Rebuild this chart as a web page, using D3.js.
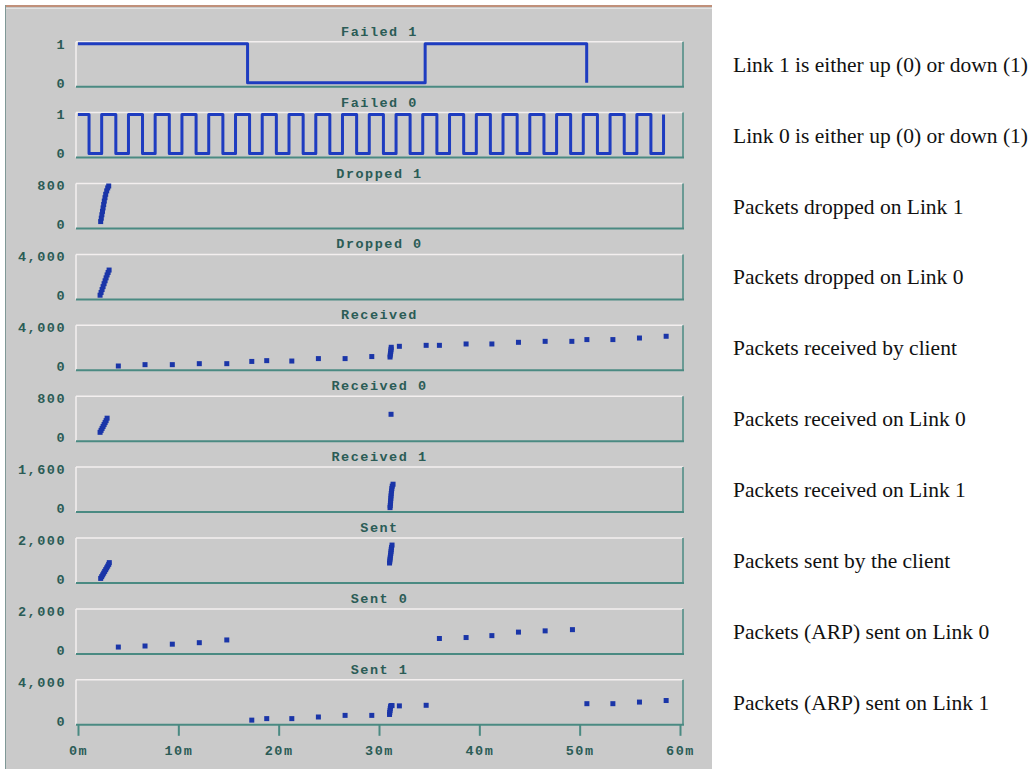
<!DOCTYPE html>
<html>
<head>
<meta charset="utf-8">
<script src="https://cdn.jsdelivr.net/npm/d3@7"></script>
<style>
body { margin: 0; background: #fff; }
svg { display: block; }
</style>
</head>
<body>
<div id="chart"></div>
<script>
var panelTitles = ['Failed 1', 'Failed 0', 'Dropped 1', 'Dropped 0', 'Received',
  'Received 0', 'Received 1', 'Sent', 'Sent 0', 'Sent 1'];
var panelMax = [1, 1, 800, 4000, 4000, 800, 1600, 2000, 2000, 4000];
var panelNotes = [
  'Link 1 is either up (0) or down (1)',
  'Link 0 is either up (0) or down (1)',
  'Packets dropped on Link 1',
  'Packets dropped on Link 0',
  'Packets received by client',
  'Packets received on Link 0',
  'Packets received on Link 1',
  'Packets sent by the client',
  'Packets (ARP) sent on Link 0',
  'Packets (ARP) sent on Link 1'
];
var xTicks = [0, 10, 20, 30, 40, 50, 60];

// link state, time in minutes
var failed1Time = [0, 16.9, 34.6, 50.7];
var failed1Value = [1, 0, 1, 0];
var failed0Time = [0, 1.10, 2.36, 3.77, 5.03, 6.43, 7.69, 9.10, 10.36, 11.77, 13.03,
  14.44, 15.70, 17.10, 18.36, 19.77, 21.03, 22.44, 23.70, 25.10, 26.36, 27.77,
  29.03, 30.44, 31.70, 33.10, 34.36, 35.77, 37.03, 38.44, 39.70, 41.10, 42.36,
  43.77, 45.03, 46.44, 47.70, 49.10, 50.36, 51.77, 53.03, 54.44, 55.70, 57.10, 58.36];
var failed0Value = [1, 0, 1, 0, 1, 0, 1, 0, 1, 0, 1, 0, 1, 0, 1, 0, 1, 0, 1, 0, 1, 0,
  1, 0, 1, 0, 1, 0, 1, 0, 1, 0, 1, 0, 1, 0, 1, 0, 1, 0, 1, 0, 1, 0, 1];

// counters: [minute, packets]
var dropped1 = [[2.26, 60], [2.32, 130], [2.38, 200], [2.44, 270], [2.5, 340], [2.56, 410],
  [2.62, 480], [2.69, 550], [2.76, 620], [2.86, 690], [2.96, 750], [3.06, 790]];
var dropped0 = [[2.2, 20], [2.3, 300], [2.4, 600], [2.5, 900], [2.6, 1200], [2.7, 1500],
  [2.8, 1800], [2.9, 2100], [3.0, 2350], [3.1, 2600]];
var received = [[4.02, 30], [6.68, 170], [9.40, 170], [12.09, 270], [14.83, 270],
  [17.32, 500], [18.81, 580], [21.31, 540], [23.96, 790], [26.62, 790], [29.28, 1000],
  [31.1, 950], [31.12, 1150], [31.15, 1350], [31.18, 1550], [31.2, 1750], [31.22, 1950],
  [32.03, 2050], [34.70, 2150], [36.02, 2150], [38.68, 2290], [41.25, 2290], [43.90, 2460],
  [46.56, 2560], [49.22, 2560], [50.72, 2740], [53.31, 2740], [55.96, 2900], [58.62, 3080]];
var received0 = [[2.2, 100], [2.3, 140], [2.4, 180], [2.5, 220], [2.6, 260], [2.7, 300],
  [2.8, 340], [2.9, 390], [31.2, 470]];
var received1 = [[31.1, 20], [31.12, 100], [31.14, 200], [31.16, 300], [31.18, 400],
  [31.2, 500], [31.22, 600], [31.25, 700], [31.28, 800], [31.32, 900], [31.4, 980]];
var sent = [[2.26, 30], [2.36, 120], [2.46, 210], [2.56, 300], [2.66, 390], [2.76, 480],
  [2.86, 570], [2.96, 660], [3.06, 750], [3.12, 840],
  [31.05, 820], [31.08, 920], [31.1, 1020], [31.12, 1120], [31.15, 1220], [31.18, 1320],
  [31.2, 1420], [31.22, 1520], [31.25, 1620], [31.3, 1740]];
var sent0 = [[4.02, 146], [6.68, 200], [9.40, 293], [12.09, 370], [14.83, 510],
  [36.02, 585], [38.68, 634], [41.25, 732], [43.90, 912], [46.56, 976], [49.28, 1039]];
var sent1 = [[17.32, 68], [18.81, 224], [21.31, 224], [23.96, 390], [26.62, 556], [29.28, 556],
  [31.05, 650], [31.07, 850], [31.1, 1050], [31.12, 1250], [31.15, 1450], [31.2, 1560],
  [31.3, 1560], [32.03, 1530], [34.70, 1590],
  [50.72, 1756], [53.31, 1756], [55.96, 1920], [58.62, 2080]];

var seriesByPanel = [
  {type: 'step', t: failed1Time, v: failed1Value},
  {type: 'step', t: failed0Time, v: failed0Value},
  {type: 'dots', pts: dropped1},
  {type: 'dots', pts: dropped0},
  {type: 'dots', pts: received},
  {type: 'dots', pts: received0},
  {type: 'dots', pts: received1},
  {type: 'dots', pts: sent},
  {type: 'dots', pts: sent0},
  {type: 'dots', pts: sent1}
];

var w = 1032, h = 769;
var mono = '"Liberation Mono", "DejaVu Sans Mono", monospace';
var textCol = '#2b5c56', tealCol = '#4a8a82', lightCol = '#f3efef';
var blue = '#1e3cc0', dotBlue = '#1a35a8';

var svg = d3.select('#chart').append('svg')
  .attr('width', w)
  .attr('height', h);

// the grey window
svg.append('rect')
  .attr('x', 5).attr('y', 5)
  .attr('width', 707).attr('height', h - 5)
  .attr('fill', '#cacaca');
svg.append('line')
  .attr('x1', 5).attr('x2', 712).attr('y1', 6).attr('y2', 6)
  .attr('stroke', '#c0907a').attr('stroke-width', 2);
svg.append('line')
  .attr('x1', 5).attr('x2', 712).attr('y1', 8.5).attr('y2', 8.5)
  .attr('stroke', '#e2e2e2').attr('stroke-width', 1);
svg.append('line')
  .attr('x1', 5.5).attr('x2', 5.5).attr('y1', 5).attr('y2', h)
  .attr('stroke', '#7f9896').attr('stroke-width', 1);

var x = d3.scaleLinear().domain([0, 60]).range([78, 680]);
var boxL = 76, boxR = 683, boxH = 45, top0 = 41.7, step = 70.9;

panelTitles.forEach(function(title, i) {
  var top = top0 + step * i, bottom = top + boxH;
  var y = d3.scaleLinear().domain([0, panelMax[i]]).range([bottom - 4, top + 2]);
  var g = svg.append('g').attr('class', 'panel');

  // bevelled frame
  g.append('line').attr('x1', boxL).attr('x2', boxR).attr('y1', top).attr('y2', top)
    .attr('stroke', lightCol).attr('stroke-width', 1.5);
  g.append('line').attr('x1', boxL).attr('x2', boxL).attr('y1', top).attr('y2', bottom)
    .attr('stroke', lightCol).attr('stroke-width', 1.5);
  g.append('line').attr('x1', boxR).attr('x2', boxR).attr('y1', top).attr('y2', bottom)
    .attr('stroke', tealCol).attr('stroke-width', 1.5);
  g.append('line').attr('x1', boxL).attr('x2', boxR + 1).attr('y1', bottom).attr('y2', bottom)
    .attr('stroke', tealCol).attr('stroke-width', 2);

  g.append('text')
    .attr('x', (boxL + boxR) / 2)
    .attr('y', top - 6)
    .attr('text-anchor', 'middle')
    .style('font-family', mono).style('font-weight', 'bold')
    .style('font-size', '13.5px').style('letter-spacing', '1.5px')
    .style('fill', textCol)
    .text(title);

  var yAxis = d3.axisLeft(y)
    .tickValues([0, panelMax[i]])
    .tickFormat(d3.format(','))
    .tickSize(0)
    .tickPadding(10);
  var yAxisG = g.append('g')
    .attr('transform', 'translate(' + boxL + ',0)')
    .call(yAxis);
  yAxisG.select('.domain').remove();
  yAxisG.selectAll('text')
    .attr('font-family', mono).attr('font-weight', 'bold')
    .attr('font-size', 13.5).style('letter-spacing', '1.5px')
    .attr('fill', textCol);

  var s = seriesByPanel[i];
  if (s.type === 'step') {
    var line = d3.line()
      .x(function(d) { return x(d[0]); })
      .y(function(d) { return y(d[1]); })
      .curve(d3.curveStepAfter);
    g.append('path')
      .datum(d3.zip(s.t, s.v))
      .attr('d', line)
      .attr('fill', 'none')
      .attr('stroke', blue)
      .attr('stroke-width', 3)
      .attr('stroke-linejoin', 'round');
  } else {
    g.selectAll('.dot')
      .data(s.pts)
      .enter().append('rect')
        .attr('class', 'dot')
        .attr('x', function(d) { return x(d[0]) - 2.5; })
        .attr('y', function(d) { return y(d[1]) - 2.5; })
        .attr('width', 5)
        .attr('height', 5)
        .attr('fill', dotBlue);
  }

  svg.append('text')
    .attr('x', 733)
    .attr('y', (top + bottom) / 2)
    .attr('dy', '0.35em')
    .style('font-family', '"Liberation Serif", "Times New Roman", serif')
    .style('font-size', '21.5px')
    .style('fill', '#111')
    .text(panelNotes[i]);

  if (i === panelTitles.length - 1) {
    var xAxis = d3.axisBottom(x)
      .tickValues(xTicks)
      .tickFormat(function(d) { return d + 'm'; })
      .tickSize(11)
      .tickPadding(10);
    var xAxisG = g.append('g')
      .attr('transform', 'translate(0,' + bottom + ')')
      .call(xAxis);
    xAxisG.select('.domain').remove();
    xAxisG.selectAll('.tick line').attr('stroke', tealCol).attr('stroke-width', 2);
    xAxisG.selectAll('text')
      .attr('font-family', mono).attr('font-weight', 'bold')
      .attr('font-size', 13.5).style('letter-spacing', '1.5px')
      .attr('fill', textCol);
  }
});
</script>
</body>
</html>
